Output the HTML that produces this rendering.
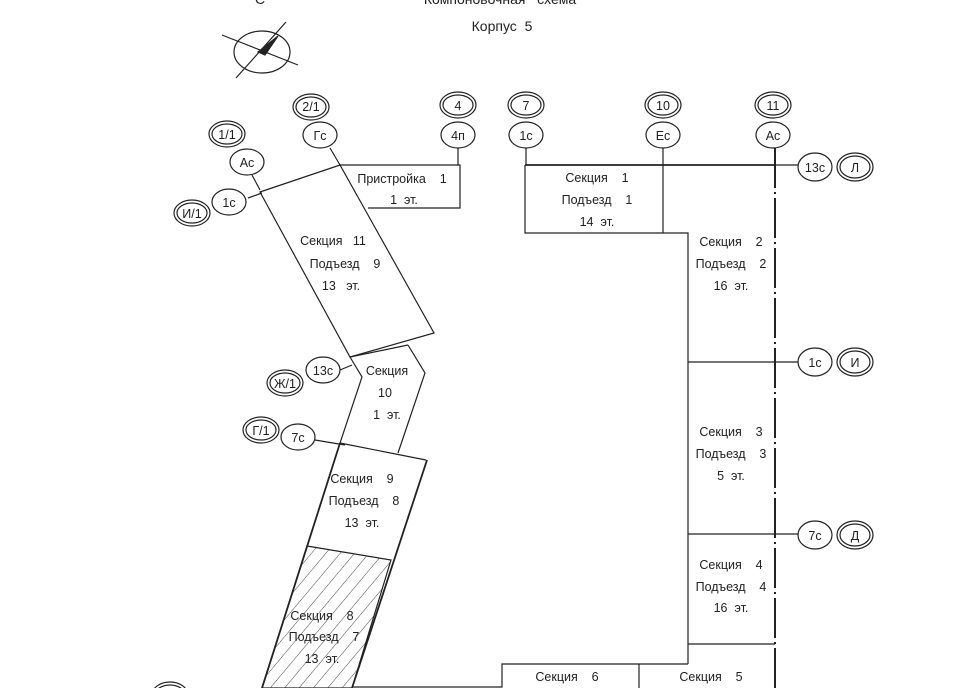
<!DOCTYPE html>
<html><head><meta charset="utf-8"><style>
html,body{margin:0;padding:0;background:#fff;}
svg{display:block;}
text{font-family:"Liberation Sans","DejaVu Sans",sans-serif;font-size:12.5px;fill:#222;white-space:pre;}
</style></head><body>
<svg width="956" height="688" viewBox="0 0 956 688" xmlns="http://www.w3.org/2000/svg" xml:space="preserve">
<defs>
<pattern id="h" patternUnits="userSpaceOnUse" width="11" height="11" patternTransform="rotate(40)">
<line x1="0" y1="0" x2="0" y2="11" stroke="#333" stroke-width="0.9"/>
</pattern>
</defs>
<rect width="956" height="688" fill="#fff"/>
<text x="500" y="4" text-anchor="middle" style="font-size:14px">Компоновочная   схема</text>
<text x="255" y="4" style="font-size:14px">С</text>
<text x="502" y="31" text-anchor="middle" style="font-size:14px">Корпус  5</text>
<g stroke="#222" fill="none" stroke-width="1.2">
<ellipse cx="262" cy="52" rx="28" ry="21"/>
<line x1="222" y1="35" x2="298" y2="65"/>
<line x1="236" y1="78" x2="286" y2="22"/>
<path d="M258 52 L278 36 L265 55 Z" fill="#222"/>
</g>
<g stroke="#222" fill="none" stroke-width="1.2">
<polyline points="340,165 460,165 460,208 368,208"/>
<polygon points="260,192 340,165 434,333 350,357"/>
<polyline points="350,357 362,377 340,443 426,460"/>
<polyline points="408,345 425,373 398,453"/>
<line x1="350" y1="357" x2="408" y2="345"/>
<polygon points="307,546 391,560 352,688 262,688" fill="url(#h)"/>
<line x1="340" y1="443" x2="262" y2="688" stroke-width="1.8"/>
<line x1="427" y1="460" x2="352" y2="688" stroke-width="1.8"/>
<polyline points="525,165 525,233 688,233 688,664"/>
<line x1="525" y1="165" x2="775" y2="165" stroke-width="1.8"/>
<line x1="663" y1="148" x2="663" y2="233"/>
<line x1="775" y1="148" x2="775" y2="688" stroke-width="2" stroke-dasharray="40 4 2 4"/>
<line x1="688" y1="362" x2="800" y2="362"/>
<line x1="688" y1="534" x2="800" y2="534"/>
<line x1="775" y1="165" x2="800" y2="165"/>
<line x1="688" y1="644" x2="775" y2="644"/>
<polyline points="352,687 502,687 502,664 688,664"/>
<line x1="639" y1="664" x2="639" y2="688"/>
<line x1="330" y1="148" x2="340" y2="165"/>
<line x1="458" y1="148" x2="458" y2="165"/>
<line x1="526" y1="148" x2="526" y2="165"/>
<line x1="252" y1="175" x2="260" y2="190"/>
<line x1="248" y1="198" x2="262" y2="193"/>
<line x1="340" y1="370" x2="352" y2="365"/>
<line x1="315" y1="440" x2="345" y2="445"/>
</g>
<g stroke="#222" fill="#fff" stroke-width="1.2">
<ellipse cx="311" cy="107" rx="18" ry="13"/><ellipse cx="311" cy="107" rx="15" ry="10"/>
<ellipse cx="458" cy="105" rx="18" ry="13"/><ellipse cx="458" cy="105" rx="15" ry="10"/>
<ellipse cx="526" cy="105" rx="18" ry="13"/><ellipse cx="526" cy="105" rx="15" ry="10"/>
<ellipse cx="663" cy="105" rx="18" ry="13"/><ellipse cx="663" cy="105" rx="15" ry="10"/>
<ellipse cx="773" cy="105" rx="18" ry="13"/><ellipse cx="773" cy="105" rx="15" ry="10"/>
<ellipse cx="227" cy="134" rx="18" ry="13"/><ellipse cx="227" cy="134" rx="15" ry="10"/>
<ellipse cx="192" cy="213" rx="18" ry="13"/><ellipse cx="192" cy="213" rx="15" ry="10"/>
<ellipse cx="855" cy="167" rx="18" ry="14"/><ellipse cx="855" cy="167" rx="15" ry="11"/>
<ellipse cx="855" cy="362" rx="18" ry="14"/><ellipse cx="855" cy="362" rx="15" ry="11"/>
<ellipse cx="855" cy="535" rx="18" ry="14"/><ellipse cx="855" cy="535" rx="15" ry="11"/>
<ellipse cx="285" cy="383" rx="18" ry="13"/><ellipse cx="285" cy="383" rx="15" ry="10"/>
<ellipse cx="261" cy="430" rx="18" ry="13"/><ellipse cx="261" cy="430" rx="15" ry="10"/>
<ellipse cx="170" cy="695" rx="18" ry="13"/><ellipse cx="170" cy="695" rx="15" ry="10"/>
<ellipse cx="320" cy="135" rx="17" ry="13"/>
<ellipse cx="458" cy="135" rx="17" ry="13"/>
<ellipse cx="526" cy="135" rx="17" ry="13"/>
<ellipse cx="663" cy="135" rx="17" ry="13"/>
<ellipse cx="773" cy="135" rx="17" ry="13"/>
<ellipse cx="247" cy="162" rx="17" ry="13"/>
<ellipse cx="229" cy="202" rx="17" ry="13"/>
<ellipse cx="815" cy="167" rx="17" ry="14"/>
<ellipse cx="815" cy="362" rx="17" ry="14"/>
<ellipse cx="815" cy="535" rx="17" ry="14"/>
<ellipse cx="323" cy="370" rx="17" ry="13"/>
<ellipse cx="298" cy="437" rx="17" ry="13"/>
</g>
<g text-anchor="middle">
<text x="311" y="111">2/1</text><text x="458" y="110">4</text><text x="526" y="110">7</text>
<text x="663" y="110">10</text><text x="773" y="110">11</text><text x="227" y="139">1/1</text>
<text x="192" y="218">И/1</text><text x="855" y="172">Л</text><text x="855" y="367">И</text>
<text x="855" y="540">Д</text><text x="285" y="388">Ж/1</text><text x="261" y="435">Г/1</text>
<text x="320" y="140">Гс</text><text x="458" y="140">4п</text><text x="526" y="140">1с</text>
<text x="663" y="140">Ес</text><text x="773" y="140">Ас</text><text x="247" y="167">Ас</text>
<text x="229" y="207">1с</text><text x="815" y="172">13с</text><text x="815" y="367">1с</text>
<text x="815" y="540">7с</text><text x="323" y="375">13с</text><text x="298" y="442">7с</text>

<text x="402" y="183">Пристройка    1</text><text x="404" y="204">1  эт.</text>
<text x="597" y="182">Секция    1</text><text x="597" y="204">Подъезд    1</text><text x="597" y="226">14  эт.</text>
<text x="731" y="246">Секция    2</text><text x="731" y="268">Подъезд    2</text><text x="731" y="290">16  эт.</text>
<text x="333" y="245">Секция   11</text><text x="345" y="268">Подъезд    9</text><text x="341" y="290">13   эт.</text>
<text x="387" y="375">Секция</text><text x="385" y="397">10</text><text x="387" y="419">1  эт.</text>
<text x="731" y="436">Секция    3</text><text x="731" y="458">Подъезд    3</text><text x="731" y="480">5  эт.</text>
<text x="731" y="569">Секция    4</text><text x="731" y="591">Подъезд    4</text><text x="731" y="612">16  эт.</text>
<text x="362" y="483">Секция    9</text><text x="364" y="505">Подъезд    8</text><text x="362" y="527">13  эт.</text>
<text x="322" y="620">Секция    8</text><text x="324" y="641">Подъезд    7</text><text x="322" y="663">13  эт.</text>
<text x="567" y="681">Секция    6</text><text x="711" y="681">Секция    5</text>
</g>
</svg>
</body></html>
